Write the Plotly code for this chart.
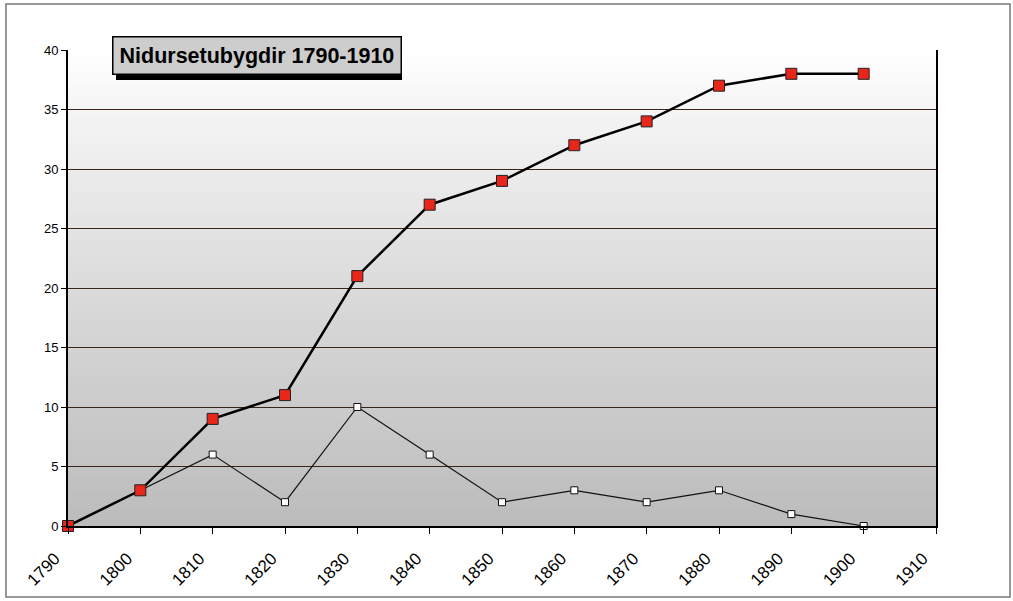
import plotly.graph_objects as go

years = [1790, 1800, 1810, 1820, 1830, 1840, 1850, 1860, 1870, 1880, 1890, 1900]
cumulative = [0, 3, 9, 11, 21, 27, 29, 32, 34, 37, 38, 38]
new_per_decade = [0, 3, 6, 2, 10, 6, 2, 3, 2, 3, 1, 0]
x_ticks = [1790, 1800, 1810, 1820, 1830, 1840, 1850, 1860, 1870, 1880, 1890, 1900, 1910]
title_text = "Nidursetubygdir 1790-1910"

fig = go.Figure()
fig.add_trace(go.Scatter(
    x=years, y=new_per_decade, mode="lines+markers",
    line=dict(color="#111111", width=1.2),
    marker=dict(symbol="square", size=7, color="white", line=dict(color="#111111", width=1)),
    showlegend=False, cliponaxis=False))
fig.add_trace(go.Scatter(
    x=years, y=cumulative, mode="lines+markers",
    line=dict(color="#000000", width=2.5),
    marker=dict(symbol="square", size=11, color="#e8261a", line=dict(color="#222222", width=1)),
    showlegend=False, cliponaxis=False))

# gradient background (white at top to gray at bottom)
n = 90
shapes = []
for i in range(n):
    t = i / (n - 1)
    v = int(round(255 - (255 - 188) * (1 - t) ** 0.9))
    shapes.append(dict(type="rect", xref="paper", yref="paper",
                       x0=0, x1=1, y0=i / n, y1=(i + 1) / n + 0.002,
                       fillcolor=f"rgb({v},{v},{v})", line=dict(width=0), layer="below"))
# outer frame
shapes.append(dict(type="rect", xref="paper", yref="paper",
                   x0=(6 - 68) / 868, x1=(1010 - 68) / 868, y0=(526 - 597) / 476, y1=(526 - 4) / 476,
                   line=dict(color="#777777", width=1.5), layer="below"))
# title box shadow
shapes.append(dict(type="rect", xref="paper", yref="paper",
                   x0=(116 - 68) / 868, x1=(402 - 68) / 868,
                   y0=(526 - 80) / 476, y1=(526 - 40) / 476,
                   fillcolor="#000000", line=dict(width=0), layer="above"))

fig.update_layout(
    width=1013, height=601,
    margin=dict(l=68, r=77, t=50, b=75),
    paper_bgcolor="white", plot_bgcolor="white",
    font=dict(family="Liberation Sans, Arial, sans-serif", color="#000000"),
    shapes=shapes,
    xaxis=dict(range=[1790, 1910], tickvals=x_ticks, ticktext=[str(v) for v in x_ticks],
               tickangle=-45, tickfont=dict(size=17), showgrid=False, automargin=False,
               ticklabelshift=-13, ticklabelstandoff=8,
               showline=True, linecolor="#000000", linewidth=2,
               ticks="outside", ticklen=6, tickcolor="#000000", zeroline=False),
    yaxis=dict(range=[0, 40], dtick=5, tickfont=dict(size=13), showgrid=True, automargin=False,
               gridcolor="#3a2418", gridwidth=1,
               showline=True, linecolor="#000000", linewidth=2, mirror=True,
               ticks="outside", ticklen=5, tickcolor="#000000", zeroline=False),
    annotations=[dict(text=f"<b>{title_text}</b>", xref="paper", yref="paper",
                      x=(112 - 68) / 868, y=(526 - 36) / 476, xanchor="left", yanchor="top",
                      showarrow=False, font=dict(size=21.5, color="#000000"),
                      bgcolor="#cdcdcd", bordercolor="#000000", borderwidth=1.5, borderpad=6)],
)
fig.write_html("out.html", config={"displayModeBar": False},
               post_script="document.body.style.margin='0px';document.body.style.overflow='hidden';")
